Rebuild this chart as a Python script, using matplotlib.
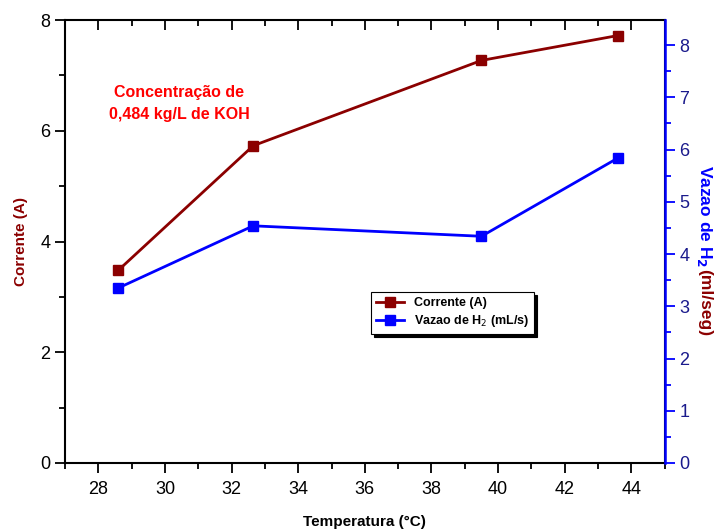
import matplotlib.pyplot as plt
from matplotlib.ticker import MultipleLocator

plt.rcParams['font.family'] = ['Liberation Sans', 'DejaVu Sans']

# Data
temperatura = [28.6, 32.65, 39.5, 43.6]
corrente = [3.48, 5.73, 7.27, 7.72]
vazao = [3.35, 4.54, 4.34, 5.84]

dark_red = '#8b0000'
navy = '#1a1a8c'

fig = plt.figure(figsize=(7.14, 5.32), dpi=100)
ax = fig.add_axes([0.091, 0.1297, 0.84, 0.8327])
ax2 = ax.twinx()

l1, = ax.plot(temperatura, corrente, color=dark_red, lw=2, marker='s', ms=7.5,
              label='Corrente (A)')
l2, = ax2.plot(temperatura, vazao, color='blue', lw=2, marker='s', ms=7.5,
               label='Vazao de H$_2$ (mL/s)')

ax.set_xlim(27, 45)
ax.set_ylim(0, 8)
ax2.set_ylim(0, 8.48)

ax.xaxis.set_major_locator(MultipleLocator(2))
ax.xaxis.set_minor_locator(MultipleLocator(1))
ax.yaxis.set_major_locator(MultipleLocator(2))
ax.yaxis.set_minor_locator(MultipleLocator(1))
ax2.yaxis.set_major_locator(MultipleLocator(1))
ax2.yaxis.set_minor_locator(MultipleLocator(0.5))

ax.tick_params(which='both', direction='out', width=1.3, labelsize=13)
ax.tick_params(which='major', length=7)
ax.tick_params(which='minor', length=4)
ax.tick_params(axis='x', which='both', top=True, pad=6)
ax2.tick_params(which='both', direction='out', colors='blue', width=1.3,
                labelsize=13, labelcolor=navy)
ax2.tick_params(which='major', length=7)
ax2.tick_params(which='minor', length=4)

# top ticks point inward
for t in ax.xaxis.get_major_ticks() + ax.xaxis.get_minor_ticks():
    t.tick2line.set_marker(3)

for s in ax.spines.values():
    s.set_linewidth(1.5)
ax2.spines['right'].set_color('blue')
ax2.spines['right'].set_linewidth(1.8)
ax2.spines['left'].set_visible(False)
ax2.spines['top'].set_visible(False)
ax2.spines['bottom'].set_visible(False)

ax.set_xlabel('Temperatura (°C)', fontsize=11, fontweight='bold', labelpad=12)
ax.set_ylabel('Corrente (A)', fontsize=11, fontweight='bold', color=dark_red,
              labelpad=9)

# right label in two colours, second part placed right after the first
t1 = fig.text(0.987, 0.69, 'Vazao de H$_\\mathbf{2}$ ', rotation=270, color='blue',
              fontsize=12.5, fontweight='bold', ha='center', va='top')
fig.canvas.draw()
bb = t1.get_window_extent().transformed(fig.transFigure.inverted())
fig.text(0.987, bb.y0, '(ml/seg)', rotation=270, color=dark_red,
         fontsize=12.5, fontweight='bold', ha='center', va='top')

ax.text(0.19, 0.812, 'Concentração de\n0,484 kg/L de KOH', transform=ax.transAxes,
        color='red', fontsize=11.5, fontweight='bold', ha='center', va='center',
        linespacing=1.6)

leg = ax.legend(handles=[l1, l2], loc='upper left', bbox_to_anchor=(0.5, 0.40),
                prop={'size': 9, 'weight': 'bold'}, frameon=True, fancybox=False,
                shadow={'color': 'black', 'alpha': 1}, borderpad=0.4,
                handlelength=2.2, labelspacing=0.35)
leg.get_frame().set_edgecolor('black')
leg.get_frame().set_linewidth(0.8)

fig.savefig('out.png', dpi=100)
